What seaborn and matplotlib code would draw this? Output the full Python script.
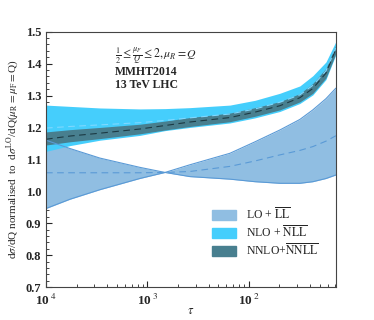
import numpy as np
import pandas as pd
import seaborn as sns
import matplotlib.pyplot as plt
import matplotlib.ticker as ticker
from matplotlib.patches import Patch

# tau sample points
tau = [1.0e-4, 1.72e-4, 3.4e-4, 8.4e-4, 1.49e-3, 2.62e-3, 6.5e-3, 1.15e-2, 2.02e-2,
       3.18e-2, 4.27e-2, 5.75e-2, 7.2e-2]

# LO + LL: two edge curves crossing near tau~1.5e-3, plus central value
lo_a = [1.160, 1.134, 1.104, 1.075, 1.059, 1.046, 1.038, 1.030, 1.025, 1.025, 1.030, 1.040, 1.051]
lo_b = [0.946, 0.975, 1.005, 1.040, 1.059, 1.083, 1.119, 1.155, 1.192, 1.225, 1.255, 1.290, 1.323]
lo_c = [1.058, 1.058, 1.058, 1.058, 1.059, 1.062, 1.078, 1.095, 1.114, 1.128, 1.140, 1.157, 1.174]

# NLO + NLL band
nlo_hi = [1.270, 1.266, 1.261, 1.258, 1.259, 1.262, 1.270, 1.285, 1.307, 1.330, 1.362, 1.405, 1.469]
nlo_lo = [1.125, 1.143, 1.160, 1.175, 1.190, 1.200, 1.214, 1.230, 1.250, 1.275, 1.302, 1.350, 1.428]
nlo_c = [1.198, 1.203, 1.208, 1.215, 1.222, 1.230, 1.242, 1.258, 1.279, 1.302, 1.332, 1.377, 1.449]

# NNLO + NNLL band
nnlo_hi = [1.186, 1.193, 1.200, 1.210, 1.220, 1.231, 1.245, 1.262, 1.281, 1.306, 1.338, 1.385, 1.458]
nnlo_lo = [1.145, 1.155, 1.165, 1.180, 1.192, 1.203, 1.218, 1.235, 1.255, 1.280, 1.307, 1.355, 1.432]
nnlo_c = [1.163, 1.173, 1.182, 1.195, 1.206, 1.217, 1.231, 1.248, 1.268, 1.293, 1.322, 1.370, 1.445]

c_lo = '#90bee2'
c_nlo = '#45cefc'
c_nnlo = '#487f8f'

sns.set_style('ticks')
plt.rcParams['font.family'] = ['Liberation Serif', 'DejaVu Serif']
plt.rcParams['mathtext.fontset'] = 'stix'

fig = plt.figure(figsize=(3.74, 3.2), dpi=100)
ax = fig.add_axes([0.123, 0.103, 0.775, 0.798])

df = pd.DataFrame({'tau': tau, 'lo_c': lo_c, 'nlo_c': nlo_c, 'nnlo_c': nnlo_c})

# LO band
ax.fill_between(tau, lo_a, lo_b, color=c_lo, lw=0)
ax.plot(tau, lo_a, color='#5a9ad6', lw=0.8)
ax.plot(tau, lo_b, color='#5a9ad6', lw=0.8)
sns.lineplot(data=df, x='tau', y='lo_c', ax=ax, color='#5a9ad6', lw=0.8, linestyle=(0, (6, 4)))

# NLO band
ax.fill_between(tau, nlo_lo, nlo_hi, color=c_nlo, lw=0)
sns.lineplot(data=df, x='tau', y='nlo_c', ax=ax, color='#7ed8ff', lw=0.8, linestyle=(0, (6, 4)))

# NNLO band
ax.fill_between(tau, nnlo_lo, nnlo_hi, color=c_nnlo, lw=0)
sns.lineplot(data=df, x='tau', y='nnlo_c', ax=ax, color='#1c3a44', lw=0.8, linestyle=(0, (6, 4)))

ax.set_xscale('log')
ax.set_xlim(1e-4, 7.2e-2)
ax.set_ylim(0.7, 1.5)
ax.xaxis.set_major_locator(ticker.FixedLocator([1e-4, 1e-3, 1e-2]))
ax.xaxis.set_major_formatter(ticker.FixedFormatter([r'10$^{\ 4}$', r'10$^{\ 3}$', r'10$^{\ 2}$']))
ax.xaxis.set_minor_locator(ticker.LogLocator(base=10, subs=np.arange(2, 10), numticks=10))
ax.xaxis.set_minor_formatter(ticker.NullFormatter())
ax.yaxis.set_major_locator(ticker.MultipleLocator(0.1))
ax.yaxis.set_minor_locator(ticker.MultipleLocator(0.02))
ax.yaxis.set_major_formatter(ticker.FormatStrFormatter('%.1f'))
ax.tick_params(which='both', direction='in', top=False, right=False)
ax.tick_params(axis='y', labelsize=9)
ax.tick_params(axis='x', labelsize=9.5, pad=4)
ax.tick_params(which='major', length=4)
ax.tick_params(which='minor', length=2)
for lab in ax.get_xticklabels() + ax.get_yticklabels():
    lab.set_fontweight('bold')
for s in ax.spines.values():
    s.set_color('#444444')
    s.set_linewidth(0.8)

ax.set_xlabel('')
ax.text(0.5, -0.095, r'$\tau$', transform=ax.transAxes, fontsize=9, ha='center', va='center')
ax.set_ylabel(r'd$\sigma$/dQ normalised  to  d$\sigma^{\rm LO}$/dQ($\mu_{\rm R}=\mu_{\rm F}=$Q)',
              fontsize=8, labelpad=3)

ax.text(0.238, 0.905, r'$\frac{1}{2}\leq\frac{\mu_F}{Q}\leq 2, \mu_R=Q$', transform=ax.transAxes,
        fontsize=8.5, va='center')
ax.text(0.238, 0.842, 'MMHT2014', transform=ax.transAxes, fontsize=8.5, fontweight='bold', va='center')
ax.text(0.238, 0.792, '13 TeV LHC', transform=ax.transAxes, fontsize=8.5, fontweight='bold', va='center')

handles = [Patch(color=c_lo), Patch(color=c_nlo), Patch(color=c_nnlo)]
labels = [r'LO + $\overline{\rm LL}$', r'NLO + $\overline{\rm NLL}$', r'NNLO+$\overline{\rm NNLL}$']
ax.legend(handles, labels, loc='upper left', bbox_to_anchor=(0.545, 0.35), frameon=False,
          fontsize=8.5, handlelength=2.0, handleheight=0.9, labelspacing=0.2, handletextpad=0.9,
          borderpad=0.2)

fig.savefig('out.png', dpi=100)
